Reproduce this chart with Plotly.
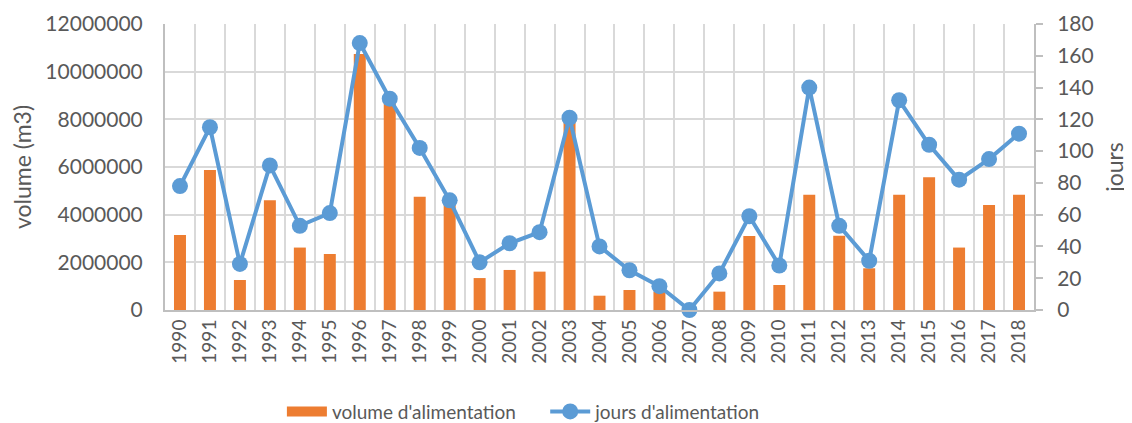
import plotly.graph_objects as go

years = [str(y) for y in range(1990, 2019)]
volume = [3150000, 5870000, 1260000, 4600000, 2620000, 2350000, 10740000, 8700000,
          4750000, 4500000, 1340000, 1680000, 1610000, 7950000, 600000, 840000,
          770000, 0, 770000, 3100000, 1050000, 4840000, 3120000, 1750000,
          4840000, 5570000, 2620000, 4410000, 4840000]
jours = [78, 115, 29, 91, 53, 61, 168, 133, 102, 69, 30, 42, 49, 121, 40, 25,
         15, 0, 23, 59, 28, 140, 53, 31, 132, 104, 82, 95, 111]

FONT = "Lato"
GREY = "#595959"
GRID = "#d9d9d9"
ORANGE = "#ED7D31"
BLUE = "#5B9BD5"

fig = go.Figure()
fig.add_trace(go.Bar(x=years, y=volume, name="volume d'alimentation", showlegend=False,
                     marker=dict(color=ORANGE, line=dict(width=0)), yaxis="y"))
# legend entry drawn as a wide orange rectangle (thick line swatch)
fig.add_trace(go.Scatter(x=[None], y=[None],
                         name="volume d'alimentation" + "\u00a0" * 5, mode="lines",
                         line=dict(color=ORANGE, width=12), yaxis="y", hoverinfo="skip"))
fig.add_trace(go.Scatter(x=years, y=jours, name="jours d'alimentation", mode="lines+markers",
                         line=dict(color=BLUE, width=4),
                         marker=dict(color=BLUE, size=16), yaxis="y2", cliponaxis=False))

fig.update_layout(
    width=1124, height=415,
    margin=dict(l=157, r=98, t=16, b=113, autoexpand=False),
    paper_bgcolor="white", plot_bgcolor="white",
    bargap=0.6,
    font=dict(family=FONT, color=GREY),
    showlegend=True,
    legend=dict(orientation="h", x=0.413, xanchor="center", y=-0.355, yanchor="middle",
                font=dict(size=19, color=GREY, family=FONT), itemwidth=40,
                tracegroupgap=0),
    xaxis=dict(type="category", range=[-0.5, 28.5], tickangle=-90, tickson="boundaries",
               showgrid=True, automargin=False,
               gridcolor=GRID, gridwidth=2, showline=True, linecolor="#bfbfbf", linewidth=2,
               ticks="", tickfont=dict(size=19, color=GREY, family=FONT)),
    yaxis=dict(range=[0, 12000000], dtick=2000000, tickformat="d", showgrid=True,
               automargin=False, ticklabelstandoff=16,
               gridcolor=GRID, gridwidth=2, showline=True, linecolor="#bfbfbf", linewidth=2,
               zeroline=False, ticks="", tickfont=dict(size=21, color=GREY, family=FONT),
               title=dict(text="volume (m3)", font=dict(size=23, color=GREY, family=FONT),
                          standoff=14)),
    yaxis2=dict(range=[0, 180], dtick=20, overlaying="y", side="right", showgrid=False,
                automargin=False, ticklabelstandoff=10,
                showline=True, linecolor="#bfbfbf", linewidth=2, zeroline=False,
                ticks="outside", ticklen=7, tickcolor="#bfbfbf", tickwidth=2,
                tickfont=dict(size=21, color=GREY, family=FONT),
                title=dict(text="jours", font=dict(size=23, color=GREY, family=FONT),
                           standoff=14)),
)

fig.write_html("out.html")
